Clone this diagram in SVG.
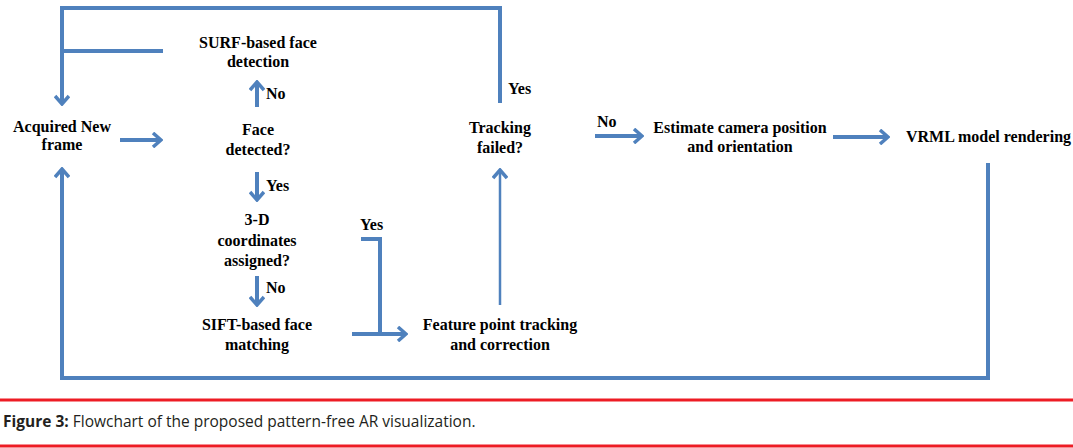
<svg xmlns="http://www.w3.org/2000/svg" width="1073" height="448" viewBox="0 0 1073 448">
<defs>
<style>
.t{font-family:"Liberation Serif","Times New Roman",serif;font-weight:bold;font-size:16px;fill:#000;text-anchor:middle}
.l{font-family:"Liberation Serif","Times New Roman",serif;font-weight:bold;font-size:16px;fill:#000}
.c{fill:none;stroke:#4f81bd;stroke-width:4}
.thin{fill:none;stroke:#4f81bd;stroke-width:2.5}
.cap{font-family:"Open Sans","Liberation Sans",sans-serif;font-size:15.5px;fill:#231f20}
</style>
<marker id="ah" markerUnits="userSpaceOnUse" viewBox="-10 -8 12 16" markerWidth="12" markerHeight="16" refX="0" refY="0" orient="auto">
<polyline points="-8,-7 0,0 -8,7" fill="none" stroke="#4f81bd" stroke-width="3.5"/>
</marker>
</defs>
<rect width="1073" height="448" fill="#fff"/>
<g id="connectors">
<path class="c" d="M163,51 H62"/>
<path class="c" d="M62,8 V104" marker-end="url(#ah)"/>
<path class="c" d="M500,103 V8 H60"/>
<path class="c" d="M257,107 V82" marker-end="url(#ah)"/>
<path class="c" d="M120,140 H161" marker-end="url(#ah)"/>
<path class="c" d="M257,172 V200" marker-end="url(#ah)"/>
<path class="c" d="M257,276 V305" marker-end="url(#ah)"/>
<path class="c" d="M361,239 H380 V334"/>
<path class="c" d="M352,334 H406" marker-end="url(#ah)"/>
<path class="thin" d="M500,305 V170" marker-end="url(#ah)"/>
<path class="c" d="M595,136 H642" marker-end="url(#ah)"/>
<path class="c" d="M833,137 H888" marker-end="url(#ah)"/>
<path class="c" d="M988,163 V378 H62 V169" marker-end="url(#ah)"/>
</g>
<g id="labels">
<text class="l" x="508" y="94">Yes</text>
<text class="l" x="266" y="99">No</text>
<text class="l" x="266" y="191">Yes</text>
<text class="l" x="266" y="293">No</text>
<text class="l" x="360" y="230">Yes</text>
<text class="l" x="597" y="127">No</text>
</g>
<g id="surf"><text class="t" x="258" y="48">SURF-based face</text><text class="t" x="258" y="67">detection</text></g>
<g id="acquired"><text class="t" x="62" y="132">Acquired New</text><text class="t" x="62" y="150">frame</text></g>
<g id="face"><text class="t" x="258" y="135">Face</text><text class="t" x="258" y="155">detected?</text></g>
<g id="coords"><text class="t" x="257" y="225">3-D</text><text class="t" x="257" y="246">coordinates</text><text class="t" x="257" y="266">assigned?</text></g>
<g id="sift"><text class="t" x="257" y="330">SIFT-based face</text><text class="t" x="257" y="350">matching</text></g>
<g id="feature"><text class="t" x="500" y="330">Feature point tracking</text><text class="t" x="500" y="350">and correction</text></g>
<g id="tracking"><text class="t" x="500" y="133">Tracking</text><text class="t" x="500" y="153">failed?</text></g>
<g id="estimate"><text class="t" x="740" y="133">Estimate camera position</text><text class="t" x="740" y="152">and orientation</text></g>
<g id="vrml"><text class="l" x="906" y="142" font-size="15.8">VRML model rendering</text></g>
<g id="caption">
<rect x="0" y="398.5" width="1073" height="3" fill="#ed1c24"/>
<rect x="0" y="444.5" width="1073" height="3" fill="#ed1c24"/>
<text class="cap" x="3" y="427"><tspan font-weight="bold">Figure 3:</tspan> Flowchart of the proposed pattern-free AR visualization.</text>
</g>
</svg>
